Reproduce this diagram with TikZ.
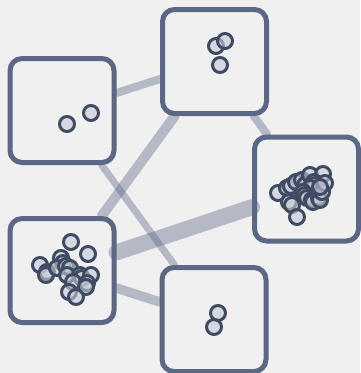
\documentclass[tikz,border=0pt]{standalone}
\usepackage{xcolor}
\usepackage{tikz}
\usetikzlibrary{backgrounds}
\definecolor{canvasbg}{HTML}{F0F0F0}
\definecolor{clusterline}{HTML}{5A6886}
\definecolor{pointline}{HTML}{3F4A63}
\definecolor{pointfill}{HTML}{C4C9D6}
\tikzset{
every picture/.style={line cap=round,line join=round},
cluster box/.style={
  draw=clusterline,
  line width=5pt,
  rounded corners=12pt,
  minimum size=104pt,
  inner sep=0pt
},
link/.style={
  draw=clusterline,
  draw opacity=0.4,
  line cap=round
},
point/.style={
  draw=pointline,
  fill=pointfill,
  fill opacity=0.6,
  line width=3pt
}
}

\begin{document}
\begin{tikzpicture}[x=1pt,y=-1pt]
\useasboundingbox (0,0) rectangle (360,373);
% cluster boxes
\node[cluster box] (ca) at (62,110.5) {};
\node[cluster box] (cb) at (214.5,61.5) {};
\node[cluster box] (cc) at (306.5,189) {};
\node[cluster box] (cd) at (62,270.5) {};
\node[cluster box] (ce) at (214,319.5) {};
% links between clusters, under the boxes
\begin{scope}[on background layer]
\fill[canvasbg] (0,0) rectangle (360,373);
\draw[link,line width=8pt] (ca) -- (cb);
\draw[link,line width=10pt] (cb) -- (cd);
\draw[link,line width=7pt] (ca) -- (ce);
\draw[link,line width=8pt] (cb) -- (cc);
\draw[link,line width=16pt] (cd) -- (cc);
\draw[link,line width=9.5pt] (cd) -- (ce);
\end{scope}
% points in each cluster
\foreach \px/\py in {67/124,91/113}
  \draw[point] (\px,\py) circle (7.5);
\foreach \px/\py in {216/46,225/41,220/65}
  \draw[point] (\px,\py) circle (7.5);
\foreach \px/\py in {218/313,214/327}
  \draw[point] (\px,\py) circle (7.5);
\foreach \px/\py in {71/242,88/254,40/265,47/272,46/275,61/258,63/263,57/268,
  66/266,70/268,67/275,80/275,82/278,91/275,73/282,87/283,86/287,69/292,76/297}
  \draw[point] (\px,\py) circle (7.5);
\foreach \px/\py in {278/193,287/188,289/202,292/205,297/217,291/186,296/182,
  302/180,307/183,305/185,310/175,323/174,314/182,315/185,310/188,303/192,
  305/195,307/198,312/200,313/202,319/198,320/200,322/192,325/183,320/187}
  \draw[point] (\px,\py) circle (7.5);
\end{tikzpicture}
\end{document}
